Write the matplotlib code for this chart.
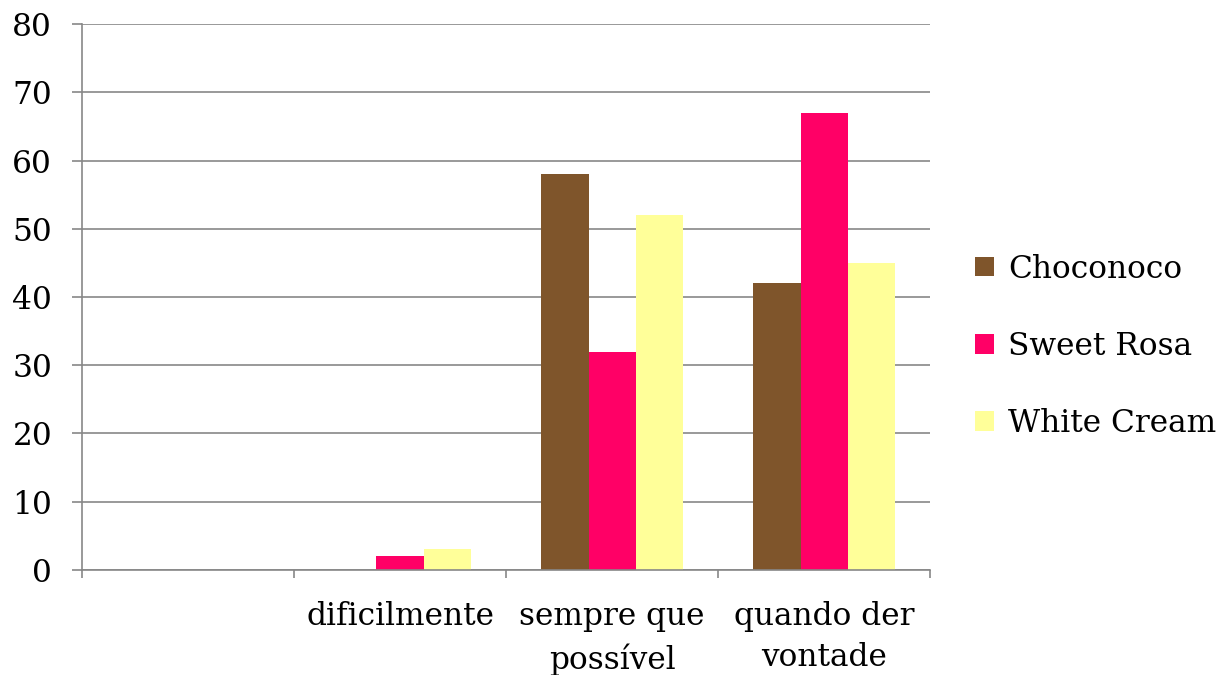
import matplotlib
matplotlib.use("Agg")
import matplotlib.pyplot as plt
import numpy as np
from matplotlib.ticker import FixedLocator, NullFormatter

# Survey responses per chocolate brand
categories = ["", "dificilmente", "sempre que\npossível", "quando der\nvontade"]
series_names = ["Choconoco", "Sweet Rosa", "White Cream"]
choconoco = [0, 0, 58, 42]
sweet_rosa = [0, 2, 32, 67]
white_cream = [0, 3, 52, 45]
colors = ["#7F552B", "#FF0066", "#FFFF99"]
y_ticks = [0, 10, 20, 30, 40, 50, 60, 70, 80]

plt.rcParams["font.family"] = ["DejaVu Serif"]

fig = plt.figure(figsize=(12.22, 6.75), dpi=100)
ax = fig.add_axes([0.0671, 0.1556, 0.694, 0.8088])

x = np.arange(len(categories))
width = 0.222
grid_color = "#878787"
fs = 22.5

for i, (vals, name, col) in enumerate(zip([choconoco, sweet_rosa, white_cream], series_names, colors)):
    ax.bar(x + (i - 1) * width, vals, width, color=col, label=name, zorder=3)

ax.set_xlim(-0.5, len(categories) - 0.5)
ax.set_ylim(0, 80)
ax.set_yticks(y_ticks)
ax.set_yticklabels([str(v) for v in y_ticks], fontsize=fs)
ax.yaxis.grid(True, color=grid_color, linewidth=1.2, zorder=0)
ax.tick_params(axis="y", length=7.5, width=1.2, color=grid_color, pad=14)

# Category labels centred, tick marks at category boundaries
ax.set_xticks(x)
ax.set_xticklabels(categories, fontsize=fs, linespacing=1.45)
ax.tick_params(axis="x", which="major", length=0, pad=22)
ax.xaxis.set_minor_locator(FixedLocator(np.arange(-0.5, len(categories), 1.0)))
ax.xaxis.set_minor_formatter(NullFormatter())
ax.tick_params(axis="x", which="minor", length=6, width=1.2, color=grid_color)

for side in ["top", "right"]:
    ax.spines[side].set_visible(False)
for side in ["left", "bottom"]:
    ax.spines[side].set_color(grid_color)
    ax.spines[side].set_linewidth(1.2)
    ax.spines[side].set_zorder(4)

leg = fig.legend(loc="center left", bbox_to_anchor=(0.798, 0.487), frameon=False,
                 fontsize=fs, handlelength=0.6, handleheight=0.6, borderpad=0,
                 borderaxespad=0, handletextpad=0.45, labelspacing=1.48)

fig.savefig("out.png", dpi=100)
